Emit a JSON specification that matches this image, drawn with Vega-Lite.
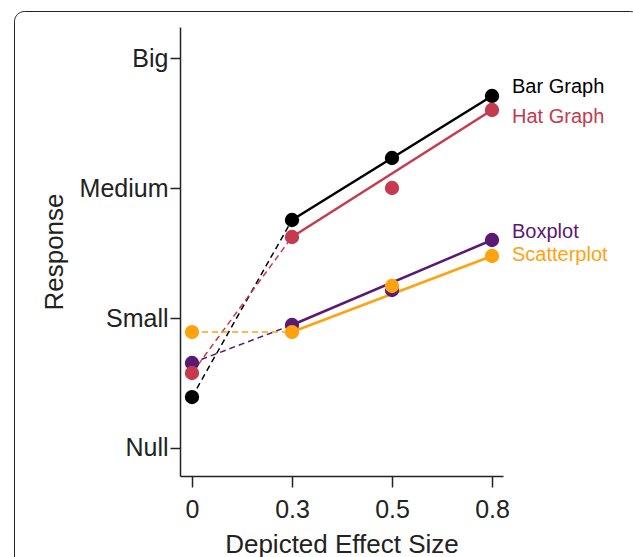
{
  "$schema": "https://vega.github.io/schema/vega-lite/v6.json",
  "width": 323,
  "height": 449,
  "autosize": "none",
  "padding": {"left": 180, "top": 27, "right": 130, "bottom": 81},
  "config": {
    "view": {"stroke": null},
    "font": "Liberation Sans",
    "axis": {
      "grid": false,
      "domainColor": "#222222",
      "tickColor": "#222222",
      "labelColor": "#222222",
      "titleColor": "#222222",
      "domainWidth": 1.5,
      "tickWidth": 1.5,
      "labelFontSize": 25,
      "titleFontSize": 26,
      "titleFontWeight": "normal"
    }
  },
  "datasets": {
    "main": [
      {"series": "Bar Graph", "effect": 0, "value": 0.392},
      {"series": "Bar Graph", "effect": 0.3, "value": 1.754},
      {"series": "Bar Graph", "effect": 0.5, "value": 2.231},
      {"series": "Bar Graph", "effect": 0.8, "value": 2.708},
      {"series": "Boxplot", "effect": 0, "value": 0.654},
      {"series": "Boxplot", "effect": 0.3, "value": 0.946},
      {"series": "Boxplot", "effect": 0.5, "value": 1.215},
      {"series": "Boxplot", "effect": 0.8, "value": 1.6},
      {"series": "Hat Graph", "effect": 0, "value": 0.577},
      {"series": "Hat Graph", "effect": 0.3, "value": 1.623},
      {"series": "Hat Graph", "effect": 0.5, "value": 2.0},
      {"series": "Hat Graph", "effect": 0.8, "value": 2.6},
      {"series": "Scatterplot", "effect": 0, "value": 0.892},
      {"series": "Scatterplot", "effect": 0.3, "value": 0.892},
      {"series": "Scatterplot", "effect": 0.5, "value": 1.246},
      {"series": "Scatterplot", "effect": 0.8, "value": 1.477}
    ],
    "labels": [
      {"series": "Bar Graph", "effect": 0.8, "value": 2.777},
      {"series": "Hat Graph", "effect": 0.8, "value": 2.546},
      {"series": "Boxplot", "effect": 0.8, "value": 1.662},
      {"series": "Scatterplot", "effect": 0.8, "value": 1.485}
    ]
  },
  "data": {"name": "main"},
  "encoding": {
    "x": {
      "field": "effect",
      "type": "quantitative",
      "scale": {"domain": [-0.036, 0, 0.3, 0.5, 0.8, 0.833], "range": [0, 12, 112, 212, 312, 323]},
      "axis": {
        "values": [0, 0.3, 0.5, 0.8],
        "format": "~g",
        "title": "Depicted Effect Size",
        "tickSize": 11,
        "labelPadding": 10,
        "titlePadding": 9
      }
    },
    "y": {
      "field": "value",
      "type": "quantitative",
      "scale": {"domain": [-0.2154, 3.2385], "nice": false, "zero": false},
      "axis": {
        "values": [0, 1, 2, 3],
        "labelExpr": "['Null','Small','Medium','Big'][datum.value]",
        "title": "Response",
        "tickSize": 10,
        "labelPadding": 2,
        "titlePadding": 12
      }
    },
    "color": {
      "field": "series",
      "type": "nominal",
      "scale": {
        "domain": ["Bar Graph", "Hat Graph", "Boxplot", "Scatterplot"],
        "range": ["#000000", "#C53A4E", "#5A1A73", "#FFA20F"]
      },
      "legend": {
        "orient": "none",
        "legendX": -166,
        "legendY": -16,
        "title": null,
        "padding": 308,
        "strokeColor": "#222222",
        "cornerRadius": 10,
        "symbolSize": 0,
        "symbolOpacity": 0,
        "symbolStrokeWidth": 0,
        "labelExpr": "''",
        "labelOffset": 0,
        "rowPadding": 0
      }
    }
  },
  "layer": [
    {
      "transform": [{"filter": "datum.effect <= 0.3"}],
      "mark": {"type": "line", "strokeDash": [6, 4], "strokeWidth": 1.5},
      "encoding": {"detail": {"field": "series"}}
    },
    {
      "transform": [{"filter": "datum.effect == 0.3 || datum.effect == 0.8"}],
      "mark": {"type": "line", "strokeWidth": 2.5},
      "encoding": {"detail": {"field": "series"}}
    },
    {
      "mark": {"type": "circle", "size": 205, "opacity": 1}
    },
    {
      "data": {"name": "labels"},
      "mark": {"type": "text", "align": "left", "baseline": "middle", "dx": 20, "fontSize": 20},
      "encoding": {"text": {"field": "series"}}
    }
  ]
}
